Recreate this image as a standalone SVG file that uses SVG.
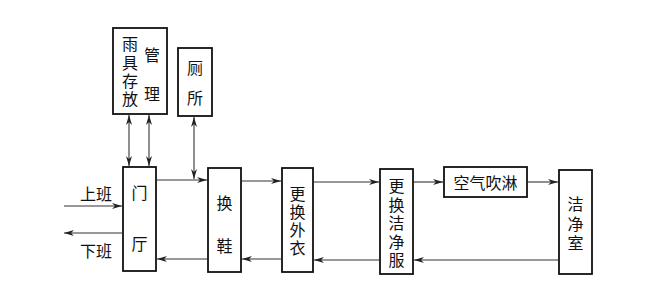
<svg xmlns="http://www.w3.org/2000/svg" width="659" height="296" viewBox="0 0 659 296">
<style>
.b{fill:#fff;stroke:#111;stroke-width:1.8}
.t{font-family:"Noto Sans CJK SC","Noto Sans CJK JP",sans-serif;font-size:16px;fill:#111;text-anchor:middle;dominant-baseline:central}
.c{fill:none;stroke:#333;stroke-width:1.1}
</style>
<defs>
<marker id="a" viewBox="0 0 10 6" refX="10" refY="3" markerWidth="10" markerHeight="6" markerUnits="userSpaceOnUse" orient="auto-start-reverse">
<path d="M0,0 L10,3 L0,6 L3,3 Z" fill="#222"/>
</marker>
</defs>
<rect width="659" height="296" fill="#fff"/>
<g id="connectors">
<line class="c" x1="129" y1="115" x2="129" y2="166" marker-start="url(#a)" marker-end="url(#a)"/>
<line class="c" x1="149" y1="115" x2="149" y2="166" marker-start="url(#a)" marker-end="url(#a)"/>
<line class="c" x1="194" y1="117" x2="194" y2="179" marker-start="url(#a)" marker-end="url(#a)"/>
<line class="c" x1="64" y1="206" x2="122" y2="206" marker-end="url(#a)"/>
<line class="c" x1="122" y1="233" x2="64" y2="233" marker-end="url(#a)"/>
<line class="c" x1="157" y1="180" x2="207" y2="180" marker-end="url(#a)"/>
<line class="c" x1="207" y1="259" x2="157" y2="259" marker-end="url(#a)"/>
<line class="c" x1="242" y1="181" x2="281" y2="181" marker-end="url(#a)"/>
<line class="c" x1="281" y1="259" x2="242" y2="259" marker-end="url(#a)"/>
<line class="c" x1="314" y1="182" x2="379" y2="182" marker-end="url(#a)"/>
<line class="c" x1="379" y1="260" x2="314" y2="260" marker-end="url(#a)"/>
<line class="c" x1="414" y1="182" x2="443" y2="182" marker-end="url(#a)"/>
<line class="c" x1="528" y1="182" x2="558" y2="182" marker-end="url(#a)"/>
<line class="c" x1="558" y1="260" x2="414" y2="260" marker-end="url(#a)"/>
</g>
<g id="label-shangban"><text class="t" x="96" y="193">上班</text></g>
<g id="label-xiaban"><text class="t" x="96" y="250">下班</text></g>
<g id="yuju">
<rect class="b" x="113" y="28" width="54" height="86"/>
<text class="t" x="130" y="43">雨</text>
<text class="t" x="130" y="61.5">具</text>
<text class="t" x="130" y="80">存</text>
<text class="t" x="130" y="98">放</text>
<text class="t" x="152" y="54">管</text>
<text class="t" x="152" y="93">理</text>
</g>
<g id="cesuo">
<rect class="b" x="178" y="48" width="34" height="68"/>
<text class="t" x="195" y="67">厕</text>
<text class="t" x="195" y="97">所</text>
</g>
<g id="menting">
<rect class="b" x="123" y="167" width="33" height="104"/>
<text class="t" x="139.5" y="192">门</text>
<text class="t" x="139.5" y="243">厅</text>
</g>
<g id="huanxie">
<rect class="b" x="208" y="168" width="33" height="104"/>
<text class="t" x="224.5" y="202">换</text>
<text class="t" x="224.5" y="245">鞋</text>
</g>
<g id="huanwaiyi">
<rect class="b" x="282" y="168" width="31" height="104"/>
<text class="t" x="297.5" y="193">更</text>
<text class="t" x="297.5" y="211">换</text>
<text class="t" x="297.5" y="229">外</text>
<text class="t" x="297.5" y="247">衣</text>
</g>
<g id="huanjingfu">
<rect class="b" x="380" y="169" width="33" height="105"/>
<text class="t" x="396.5" y="185">更</text>
<text class="t" x="396.5" y="203.5">换</text>
<text class="t" x="396.5" y="222">洁</text>
<text class="t" x="396.5" y="240.5">净</text>
<text class="t" x="396.5" y="259">服</text>
</g>
<g id="chuilin">
<rect class="b" x="444" y="167" width="83" height="30"/>
<text class="t" x="485.5" y="182">空气吹淋</text>
</g>
<g id="jingjingshi">
<rect class="b" x="559" y="170" width="33" height="104"/>
<text class="t" x="575.5" y="203">洁</text>
<text class="t" x="575.5" y="222.5">净</text>
<text class="t" x="575.5" y="242">室</text>
</g>
</svg>
